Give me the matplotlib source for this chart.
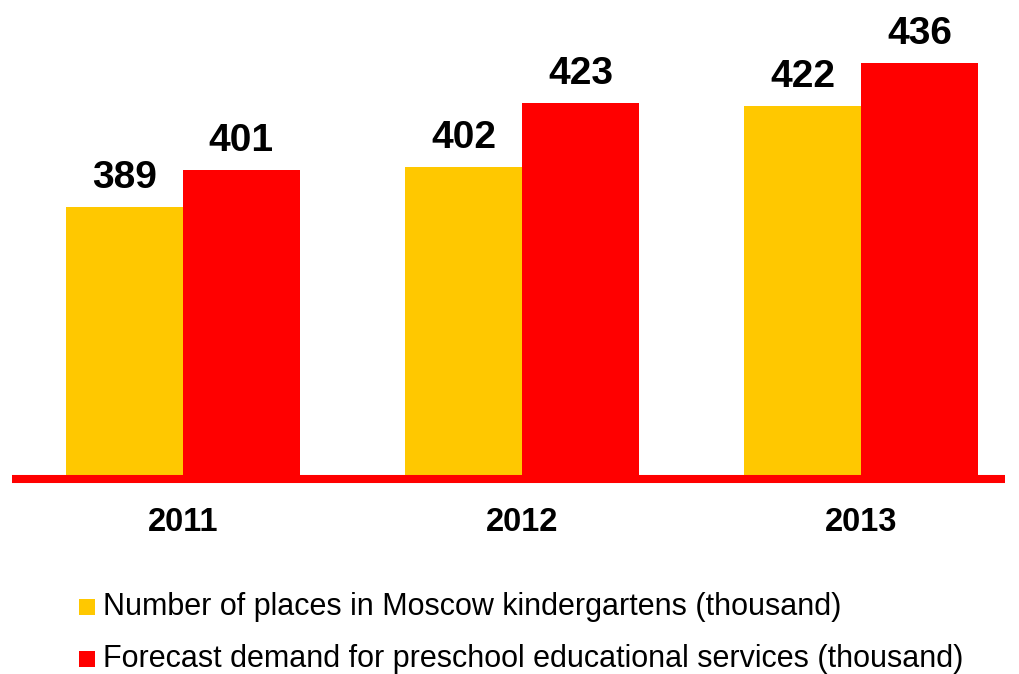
import matplotlib
matplotlib.use("Agg")
import matplotlib.pyplot as plt
from matplotlib.patches import Rectangle
import numpy as np

years = ["2011", "2012", "2013"]
places = [389, 402, 422]
demand = [401, 423, 436]
series_names = ["Number of places in Moscow kindergartens (thousand)",
                "Forecast demand for preschool educational services (thousand)"]
colors = ["#FFC800", "#FF0000"]

plt.rcParams['font.family'] = ['Liberation Sans', 'DejaVu Sans']

W, H = 1019, 674
fig = plt.figure(figsize=(W / 100, H / 100), dpi=100)

# axes in pixel coords: x 12..1005, baseline y=479, top y=20
ax_left, ax_right = 12 / W, 1005 / W
ax_bottom = (H - 479) / H
ax_top = (H - 20) / H
ax = fig.add_axes([ax_left, ax_bottom, ax_right - ax_left, ax_top - ax_bottom])

x = np.arange(len(years))
bw = 117 / 339
ax.bar(x - bw / 2, places, width=bw, color=colors[0], zorder=2)
ax.bar(x + bw / 2, demand, width=bw, color=colors[1], zorder=2)

ax.set_ylim(300, 300 + 459 / 3.06)
ax.set_xlim(-0.504, 2.425)

for xi, v in zip(x, places):
    ax.text(xi - bw / 2, v + 3.5, str(v), ha='center', va='bottom',
            fontsize=28, fontweight='bold', color='black')
for xi, v in zip(x, demand):
    ax.text(xi + bw / 2, v + 3.5, str(v), ha='center', va='bottom',
            fontsize=28, fontweight='bold', color='black')

for s in ['top', 'left', 'right']:
    ax.spines[s].set_visible(False)
ax.spines['bottom'].set_color('#FF0000')
ax.spines['bottom'].set_linewidth(5.8)
ax.spines['bottom'].set_capstyle('butt')
ax.spines['bottom'].set_zorder(3)
ax.set_yticks([])
ax.set_xticks(x)
ax.set_xticklabels(years, fontsize=23.5, fontweight='bold')
ax.tick_params(axis='x', length=0, pad=20)
ax.patch.set_visible(False)

# legend (manual)
rows_y = [607, 659]
for name, c, yc in zip(series_names, colors, rows_y):
    fig.add_artist(Rectangle((79 / W, (H - yc - 8) / H), 16 / W, 16 / H,
                             transform=fig.transFigure, color=c, lw=0))
    fig.text(103 / W, (H - yc) / H, name, ha='left', va='center',
             fontsize=22, color='black')

fig.savefig("out.png", dpi=100)
